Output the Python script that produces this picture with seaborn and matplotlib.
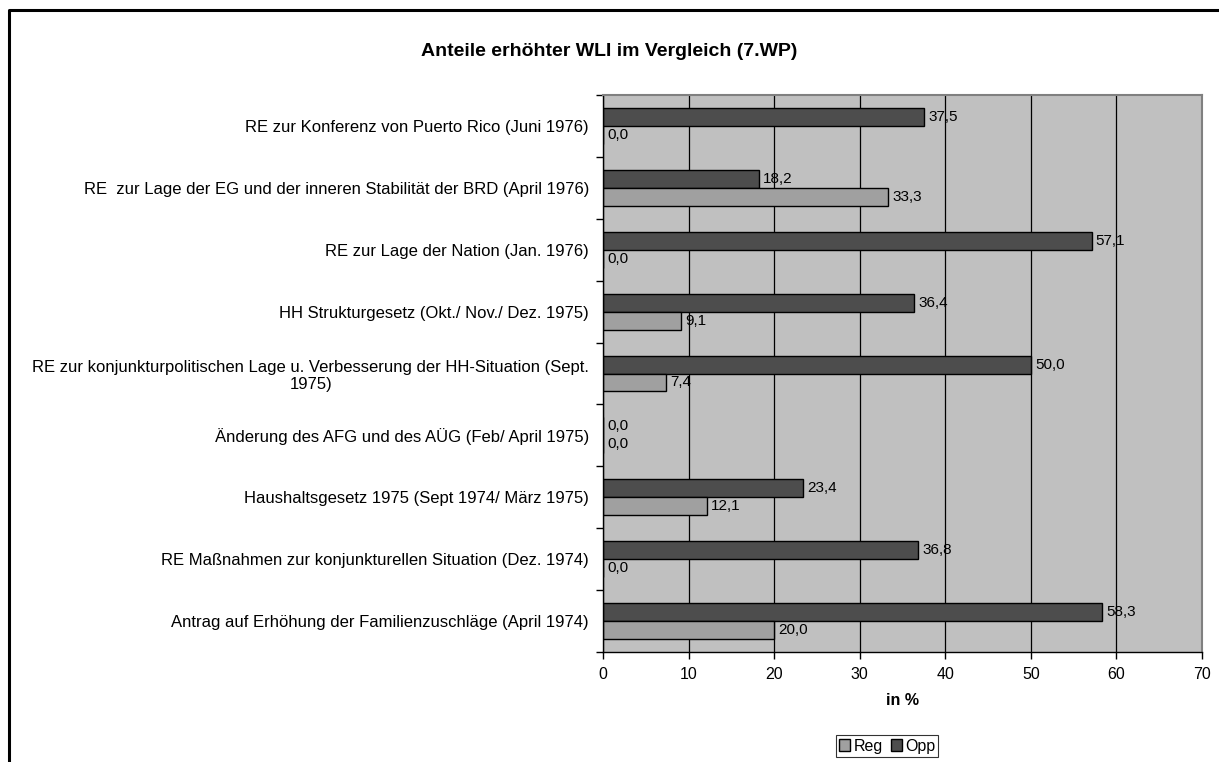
import pandas as pd
import matplotlib
matplotlib.use('Agg')
import matplotlib.pyplot as plt
import seaborn as sns
from matplotlib.lines import Line2D
from matplotlib.patches import Patch

# === data (top to bottom) ===
categories = [
    'RE zur Konferenz von Puerto Rico (Juni 1976)',
    'RE  zur Lage der EG und der inneren Stabilität der BRD (April 1976)',
    'RE zur Lage der Nation (Jan. 1976)',
    'HH Strukturgesetz (Okt./ Nov./ Dez. 1975)',
    'RE zur konjunkturpolitischen Lage u. Verbesserung der HH-Situation (Sept.\n1975)',
    'Änderung des AFG und des AÜG (Feb/ April 1975)',
    'Haushaltsgesetz 1975 (Sept 1974/ März 1975)',
    'RE Maßnahmen zur konjunkturellen Situation (Dez. 1974)',
    'Antrag auf Erhöhung der Familienzuschläge (April 1974)',
]
opp = [37.5, 18.2, 57.1, 36.4, 50.0, 0.0, 23.4, 36.8, 58.3]
reg = [0.0, 33.3, 0.0, 9.1, 7.4, 0.0, 12.1, 0.0, 20.0]
x_ticks = [0, 10, 20, 30, 40, 50, 60, 70]

df = pd.DataFrame({
    'Vorlage': categories * 2,
    'Gruppe': ['Opp'] * len(opp) + ['Reg'] * len(reg),
    'Wert': opp + reg,
})

colors = {'Opp': '#4d4d4d', 'Reg': '#a0a0a0'}

sns.set_style('white')
plt.rcParams['font.family'] = ['Liberation Sans', 'DejaVu Sans']
plt.rcParams['text.color'] = 'black'
plt.rcParams['axes.labelcolor'] = 'black'
plt.rcParams['xtick.color'] = 'black'
plt.rcParams['ytick.color'] = 'black'

fig = plt.figure(figsize=(12.19, 7.62), dpi=100)
ax = fig.add_axes([603 / 1219, 1 - 652 / 762, 599 / 1219, 557 / 762])

sns.barplot(data=df, y='Vorlage', x='Wert', hue='Gruppe', hue_order=['Opp', 'Reg'],
            order=categories, palette=colors, width=0.58, orient='h',
            edgecolor='black', linewidth=1.0, saturation=1, ax=ax, legend=False)

ax.set_facecolor('#c0c0c0')
ax.set_xlim(0, 70)
ax.set_ylim(len(categories) - 0.5, -0.5)
ax.set_xticks(x_ticks)
ax.set_xticklabels([str(t) for t in x_ticks])
ax.xaxis.grid(True, color='black', linewidth=0.9)
ax.set_axisbelow(True)

# value labels with comma decimal
for cont in ax.containers:
    for bar in cont:
        w = bar.get_width()
        ax.annotate(f'{w:.1f}'.replace('.', ','),
                    (w, bar.get_y() + bar.get_height() / 2),
                    xytext=(3, 0), textcoords='offset points',
                    ha='left', va='center', fontsize=11)

# tick marks between categories
ax.set_yticks(range(len(categories)))
ax.set_yticks([i - 0.5 for i in range(len(categories) + 1)], minor=True)
ax.tick_params(axis='y', which='major', length=0, pad=10, labelsize=12)
ax.tick_params(axis='y', which='minor', length=5, width=1, color='black', left=True)
ax.tick_params(axis='x', which='major', length=5, width=1, color='black', bottom=True,
               labelsize=11.5, pad=6)
for lab in ax.get_yticklabels():
    lab.set_multialignment('center')

ax.set_ylabel('')
ax.set_xlabel('in %', fontweight='bold', fontsize=11.5, labelpad=8)

for side in ['top', 'right']:
    ax.spines[side].set_color('#808080')
    ax.spines[side].set_linewidth(1.5)
for side in ['left', 'bottom']:
    ax.spines[side].set_color('black')
    ax.spines[side].set_linewidth(1.0)

fig.text(0.5, 1 - 52 / 762, 'Anteile erhöhter WLI im Vergleich (7.WP)',
         ha='center', va='center', fontsize=14, fontweight='bold')

handles = [Patch(facecolor=colors['Reg'], edgecolor='black', label='Reg'),
           Patch(facecolor=colors['Opp'], edgecolor='black', label='Opp')]
leg = fig.legend(handles=handles, loc='center', bbox_to_anchor=(887 / 1219, 1 - 746 / 762),
                 ncol=2, frameon=True, fancybox=False, edgecolor='black', fontsize=11.5,
                 handlelength=0.7, handleheight=0.7, handletextpad=0.2,
                 columnspacing=0.5, borderpad=0.2, borderaxespad=0)
leg.get_frame().set_linewidth(0.8)

# outer chart border (left and top only visible)
bx = 9 / 1219
by = 1 - 10 / 762
fig.add_artist(Line2D([bx, bx, 1], [0, by, by], transform=fig.transFigure,
                      color='black', linewidth=2.2))

fig.savefig('out.png', dpi=100)
